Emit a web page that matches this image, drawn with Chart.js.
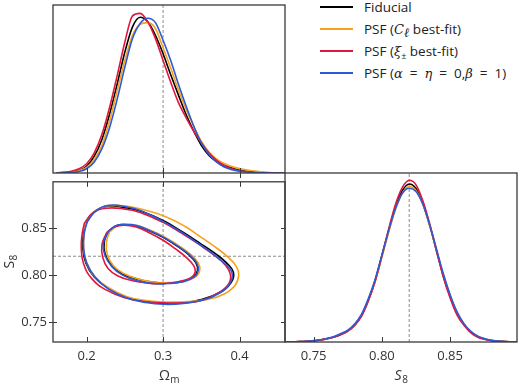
<!DOCTYPE html>
<html><head><meta charset="utf-8">
<script src="https://cdn.jsdelivr.net/npm/chart.js@4.4.0/dist/chart.umd.min.js"></script>
<style>
html,body{margin:0;padding:0;background:#fff;}
#wrap{position:relative;width:520px;height:384px;overflow:hidden;font-family:'Open Sans',sans-serif;}
canvas{position:absolute;}
#legend{position:absolute;left:318px;top:0;font-size:13.5px;color:#222;}
.row{position:absolute;left:0;white-space:nowrap;height:18px;line-height:18px;}
.sw{position:absolute;left:2px;top:8px;width:33px;height:2px;}
.lt{position:absolute;left:46px;top:0;}
.lt i{font-family:'DejaVu Serif',serif;font-size:13px;}
.lt sub{font-size:9px;vertical-align:-3px;line-height:0;}
.lt .eq{margin:0 7px;}
</style></head>
<body><div id="wrap">
<canvas id="cTop" width="290" height="180" style="left:0;top:0"></canvas>
<canvas id="cMid" width="290" height="216" style="left:0;top:168px"></canvas>
<canvas id="cRight" width="240" height="216" style="left:280px;top:168px"></canvas>
<div id="legend"></div>
</div>
<script>
// ---------- data ----------
const omGrid = [0.16,0.17,0.18,0.19,0.20,0.21,0.22,0.23,0.24,0.25,0.26,0.27,0.28,0.29,0.30,0.31,0.32,0.33,0.34,0.35,0.36,0.37,0.38,0.39,0.40,0.41,0.42,0.43,0.44,0.45,0.46];
const omFiducial = [0.001,0.002,0.005,0.015,0.04,0.10,0.20,0.35,0.53,0.72,0.87,0.927,0.90,0.82,0.71,0.585,0.465,0.35,0.25,0.165,0.105,0.068,0.045,0.029,0.018,0.011,0.006,0.003,0.0015,0.0005,0];
const omClFit    = [0.001,0.003,0.006,0.014,0.033,0.08,0.165,0.31,0.49,0.67,0.82,0.885,0.895,0.86,0.745,0.625,0.495,0.38,0.28,0.19,0.125,0.083,0.057,0.039,0.026,0.017,0.011,0.006,0.003,0.001,0];
const omXiFit    = [0.001,0.004,0.01,0.025,0.055,0.12,0.23,0.39,0.58,0.78,0.935,0.95,0.90,0.80,0.67,0.54,0.42,0.33,0.25,0.18,0.12,0.075,0.045,0.025,0.013,0.007,0.003,0.001,0,0,0];
const omAlphaBeta= [0,0.001,0.003,0.009,0.025,0.065,0.145,0.27,0.44,0.63,0.80,0.89,0.921,0.895,0.79,0.67,0.53,0.40,0.28,0.18,0.11,0.065,0.036,0.02,0.011,0.006,0.003,0.001,0,0,0];

const s8Grid = [0.730,0.735,0.740,0.745,0.750,0.755,0.760,0.765,0.770,0.775,0.780,0.785,0.790,0.795,0.800,0.805,0.810,0.815,0.820,0.825,0.830,0.835,0.840,0.845,0.850,0.855,0.860,0.865,0.870,0.875,0.880,0.885,0.890,0.895,0.900];
const s8Fiducial = [0,0.001,0.002,0.004,0.007,0.012,0.02,0.03,0.045,0.065,0.10,0.155,0.245,0.36,0.51,0.66,0.80,0.895,0.935,0.908,0.82,0.69,0.54,0.39,0.27,0.17,0.105,0.06,0.033,0.018,0.009,0.005,0.002,0.001,0];
const s8ClFit    = [0,0.001,0.002,0.004,0.007,0.012,0.02,0.031,0.046,0.066,0.10,0.155,0.245,0.355,0.50,0.65,0.785,0.88,0.92,0.897,0.815,0.69,0.545,0.395,0.275,0.175,0.108,0.062,0.034,0.019,0.01,0.005,0.002,0.001,0];
const s8XiFit    = [0,0.001,0.002,0.004,0.007,0.012,0.02,0.03,0.045,0.064,0.098,0.152,0.243,0.36,0.51,0.67,0.815,0.915,0.957,0.93,0.835,0.70,0.54,0.385,0.26,0.16,0.10,0.056,0.03,0.016,0.008,0.004,0.002,0.001,0];
const s8AlphaBeta= [0,0.001,0.002,0.004,0.008,0.013,0.021,0.033,0.05,0.07,0.106,0.163,0.255,0.37,0.515,0.66,0.79,0.88,0.91,0.89,0.815,0.695,0.55,0.405,0.28,0.18,0.11,0.064,0.036,0.02,0.01,0.005,0.002,0.001,0];

// 2D contours [Omega_m, S8]
const c68Fiducial = [[0.228,0.846],[0.238,0.852],[0.250,0.8535],[0.265,0.852],[0.282,0.847],[0.300,0.840],[0.318,0.831],[0.333,0.822],[0.343,0.813],[0.345,0.805],[0.340,0.798],[0.325,0.793],[0.305,0.7915],[0.285,0.7925],[0.265,0.796],[0.245,0.802],[0.232,0.811],[0.224,0.823],[0.223,0.835]];
const c95Fiducial = [[0.200,0.856],[0.210,0.867],[0.228,0.873],[0.250,0.8715],[0.270,0.868],[0.300,0.858],[0.325,0.846],[0.348,0.834],[0.368,0.823],[0.383,0.813],[0.392,0.803],[0.389,0.792],[0.373,0.781],[0.350,0.774],[0.325,0.7705],[0.300,0.770],[0.275,0.772],[0.250,0.777],[0.228,0.786],[0.210,0.798],[0.199,0.813],[0.195,0.829],[0.196,0.844]];
const c68ClFit = [[0.230,0.846],[0.240,0.852],[0.252,0.8535],[0.268,0.852],[0.285,0.847],[0.303,0.840],[0.321,0.831],[0.336,0.822],[0.346,0.813],[0.348,0.805],[0.342,0.798],[0.327,0.7935],[0.307,0.792],[0.287,0.7925],[0.267,0.796],[0.248,0.802],[0.235,0.810],[0.227,0.822],[0.226,0.835]];
const c95ClFit = [[0.199,0.857],[0.211,0.868],[0.230,0.8735],[0.253,0.873],[0.276,0.869],[0.305,0.8615],[0.330,0.851],[0.350,0.840],[0.368,0.830],[0.385,0.819],[0.396,0.809],[0.399,0.800],[0.394,0.789],[0.380,0.780],[0.360,0.7745],[0.333,0.772],[0.305,0.7715],[0.278,0.773],[0.253,0.777],[0.230,0.786],[0.211,0.798],[0.200,0.813],[0.196,0.829],[0.197,0.845]];
const c68XiFit = [[0.226,0.845],[0.236,0.851],[0.249,0.853],[0.265,0.851],[0.282,0.845],[0.300,0.837],[0.316,0.828],[0.330,0.819],[0.340,0.810],[0.342,0.803],[0.336,0.797],[0.320,0.793],[0.300,0.791],[0.280,0.7915],[0.260,0.794],[0.241,0.799],[0.228,0.807],[0.221,0.819],[0.220,0.832]];
const c95XiFit = [[0.197,0.855],[0.208,0.866],[0.226,0.871],[0.250,0.870],[0.270,0.8665],[0.300,0.856],[0.325,0.844],[0.348,0.832],[0.367,0.821],[0.381,0.811],[0.388,0.801],[0.386,0.791],[0.372,0.781],[0.350,0.773],[0.325,0.7705],[0.300,0.7705],[0.275,0.772],[0.250,0.776],[0.226,0.784],[0.207,0.796],[0.196,0.812],[0.193,0.829],[0.194,0.843]];
const c68AlphaBeta = [[0.229,0.847],[0.239,0.8525],[0.251,0.854],[0.266,0.8525],[0.283,0.847],[0.301,0.840],[0.319,0.831],[0.334,0.822],[0.344,0.813],[0.346,0.805],[0.341,0.798],[0.326,0.793],[0.306,0.791],[0.286,0.791],[0.266,0.794],[0.247,0.800],[0.233,0.809],[0.224,0.821],[0.222,0.834]];
const c95AlphaBeta = [[0.201,0.857],[0.212,0.868],[0.229,0.874],[0.252,0.8725],[0.272,0.868],[0.300,0.857],[0.325,0.845],[0.347,0.833],[0.366,0.822],[0.381,0.812],[0.390,0.803],[0.388,0.792],[0.374,0.781],[0.352,0.7735],[0.327,0.770],[0.302,0.769],[0.277,0.771],[0.252,0.776],[0.229,0.785],[0.211,0.798],[0.200,0.813],[0.196,0.829],[0.197,0.845]];

const omTicks = [0.2,0.3,0.4];
const omTickLabels = ['0.2','0.3','0.4'];
const s8Ticks = [0.75,0.80,0.85];
const s8TickLabels = ['0.75','0.80','0.85'];
const omFid = 0.3;
const s8Fid = 0.82;

const seriesNames = ['Fiducial','PSF (C_ell best-fit)','PSF (xi_pm best-fit)','PSF (alpha=eta=0,beta=1)'];
const legendHtml = ['Fiducial',
  'PSF (<i>C</i><sub><i>ℓ</i></sub> best-fit)',
  'PSF (<i>ξ</i><sub>±</sub> best-fit)',
  'PSF (<i>α</i><span class="eq">=</span><i>η</i><span class="eq">=</span>0,<i>β</i><span class="eq">=</span>1)'];

// ---------- styling ----------
const colors = ['#000000','#f5a31e','#e2173d','#2c5ad8'];
const omSeries = [omFiducial, omClFit, omXiFit, omAlphaBeta];
const s8Series = [s8Fiducial, s8ClFit, s8XiFit, s8AlphaBeta];
const c68 = [c68Fiducial, c68ClFit, c68XiFit, c68AlphaBeta];
const c95 = [c95Fiducial, c95ClFit, c95XiFit, c95AlphaBeta];
const omRange = [0.156, 0.4595];
const s8Range = [0.729, 0.899];
const drawOrder = [3,2,1,0]; // first drawn on top
const FONT = "'Open Sans', 'DejaVu Sans', sans-serif";
const dashStyle = {borderColor:'#8a8a8a', borderWidth:1, borderDash:[3,2], pointRadius:0, showLine:true, fill:false};

const cornerPlugin = {
  id:'corner',
  afterDatasetsDraw(chart, args, o){
    const {ctx, chartArea:a, scales} = chart;
    ctx.save();
    ctx.strokeStyle = '#3a3a3a'; ctx.lineWidth = 1.3;
    ctx.strokeRect(a.left, a.top, a.right-a.left, a.bottom-a.top);
    ctx.lineWidth = 1;
    (o.marks||[]).forEach(m=>{
      const s = scales[m.axis];
      m.values.forEach(v=>{
        const p = Math.round(s.getPixelForValue(v))+0.5;
        ctx.beginPath();
        if(m.edge==='bottom'){ctx.moveTo(p,a.bottom+m.outer);ctx.lineTo(p,a.bottom-m.inner);}
        if(m.edge==='top'){ctx.moveTo(p,a.top-m.outer);ctx.lineTo(p,a.top+m.inner);}
        if(m.edge==='left'){ctx.moveTo(a.left-m.outer,p);ctx.lineTo(a.left+m.inner,p);}
        if(m.edge==='right'){ctx.moveTo(a.right+m.outer,p);ctx.lineTo(a.right-m.inner,p);}
        ctx.stroke();
      });
    });
    (o.titles||[]).forEach(t=>{
      ctx.save();
      ctx.fillStyle = '#333';
      let cx, cy;
      if(t.kind==='bottom'){cx=(a.left+a.right)/2; cy=chart.height-t.offset; ctx.translate(cx,cy);}
      else {cx=t.offset; cy=(a.top+a.bottom)/2; ctx.translate(cx,cy); ctx.rotate(-Math.PI/2);}
      const mainFont = (t.italic?'italic ':'')+'14px '+FONT;
      const subFont = '10px '+FONT;
      ctx.font = mainFont; const w1 = ctx.measureText(t.main).width;
      ctx.font = subFont; const w2 = ctx.measureText(t.sub).width;
      const x0 = -(w1+w2)/2;
      ctx.textBaseline='alphabetic'; ctx.textAlign='left';
      ctx.font = mainFont; ctx.fillText(t.main, x0, 4);
      ctx.font = subFont; ctx.fillText(t.sub, x0+w1+0.5, 7);
      ctx.restore();
    });
    ctx.restore();
  }
};

function xy(xs, ys){ return xs.map((x,i)=>({x:x, y:ys[i]})); }
function loop(pts){ const p = pts.map(q=>({x:q[0], y:q[1]})); p.push({x:pts[0][0], y:pts[0][1]}); return p; }

const baseOpts = {responsive:false, animation:false, devicePixelRatio:1,
  plugins:{legend:{display:false}, tooltip:{enabled:false}},
  elements:{point:{radius:0}}};

function tickAxis(range, ticks, labels, extra){
  return Object.assign({type:'linear', min:range[0], max:range[1],
    grid:{display:false, drawTicks:false}, border:{display:false},
    afterBuildTicks:(s)=>{ s.ticks = ticks.map(v=>({value:v})); },
    ticks:{autoSkip:false, maxRotation:0, padding:6, color:'#333', font:{family:FONT, size:13},
      callback:(v)=>{ const i = ticks.findIndex(t=>Math.abs(t-v)<1e-9); return i>=0?labels[i]:''; }}
  }, extra||{});
}

// ---------- top-left: Omega_m marginal ----------
const topSets = drawOrder.map(i=>({data:xy(omGrid, omSeries[i]), borderColor:colors[i], borderWidth:1.6,
  showLine:true, pointRadius:0, cubicInterpolationMode:'monotone', fill:false}));
topSets.push(Object.assign({data:[{x:omFid,y:0},{x:omFid,y:1}]}, dashStyle));
new Chart(document.getElementById('cTop'), {type:'scatter', data:{datasets:topSets},
  options:Object.assign({}, baseOpts, {layout:{padding:{left:53, top:5, right:5, bottom:7}},
    scales:{x:{type:'linear', display:false, min:omRange[0], max:omRange[1]}, y:{type:'linear', display:false, min:0, max:1}},
    plugins:{legend:{display:false}, tooltip:{enabled:false},
      corner:{marks:[{axis:'x', edge:'bottom', values:omTicks, inner:5, outer:5}]}}}),
  plugins:[cornerPlugin]});

// ---------- bottom-left: 2D contours ----------
const midSets = [];
drawOrder.forEach(i=>{
  [c95[i], c68[i]].forEach(c=>midSets.push({data:loop(c), borderColor:colors[i], borderWidth:1.6, showLine:true,
    pointRadius:0, tension:0.45, fill:false}));
});
midSets.push(Object.assign({data:[{x:omFid,y:s8Range[0]},{x:omFid,y:s8Range[1]}]}, dashStyle));
midSets.push(Object.assign({data:[{x:omRange[0],y:s8Fid},{x:omRange[1],y:s8Fid}]}, dashStyle));
new Chart(document.getElementById('cMid'), {type:'scatter', data:{datasets:midSets},
  options:Object.assign({}, baseOpts, {layout:{padding:{left:0, top:5, right:5, bottom:0}},
    scales:{
      x:tickAxis(omRange, omTicks, omTickLabels, {afterFit:(s)=>{s.height=42;}}),
      y:tickAxis(s8Range, s8Ticks, s8TickLabels, {afterFit:(s)=>{s.width=53;}})
    },
    plugins:{legend:{display:false}, tooltip:{enabled:false},
      corner:{marks:[
        {axis:'x', edge:'bottom', values:omTicks, inner:5, outer:0},
        {axis:'x', edge:'top', values:omTicks, inner:5, outer:0},
        {axis:'y', edge:'left', values:s8Ticks, inner:4, outer:4},
        {axis:'y', edge:'right', values:s8Ticks, inner:4, outer:0}],
        titles:[{kind:'bottom', main:'Ω', sub:'m', offset:8, italic:false},{kind:'left', main:'S', sub:'8', offset:10, italic:false}]}}}),
  plugins:[cornerPlugin]});

// ---------- bottom-right: S8 marginal ----------
const rightSets = drawOrder.map(i=>({data:xy(s8Grid, s8Series[i]), borderColor:colors[i], borderWidth:1.6,
  showLine:true, pointRadius:0, cubicInterpolationMode:'monotone', fill:false}));
rightSets.push(Object.assign({data:[{x:s8Fid,y:0},{x:s8Fid,y:1}]}, dashStyle));
new Chart(document.getElementById('cRight'), {type:'scatter', data:{datasets:rightSets},
  options:Object.assign({}, baseOpts, {layout:{padding:{left:5, top:5, right:3, bottom:0}},
    scales:{
      x:tickAxis(s8Range, s8Ticks, s8TickLabels, {afterFit:(s)=>{s.height=42;}}),
      y:{type:'linear', display:false, min:0, max:1}
    },
    plugins:{legend:{display:false}, tooltip:{enabled:false},
      corner:{marks:[{axis:'x', edge:'bottom', values:s8Ticks, inner:5, outer:0}],
        titles:[{kind:'bottom', main:'S', sub:'8', offset:8, italic:true}]}}}),
  plugins:[cornerPlugin]});

// ---------- legend ----------
const lg = document.getElementById('legend');
const rowTops = [-2, 20, 42, 64];
seriesNames.forEach((n,i)=>{
  const r = document.createElement('div');
  r.className='row'; r.style.top = rowTops[i]+'px'; r.title = n;
  r.innerHTML = '<span class="sw" style="background:'+colors[i]+'"></span><span class="lt">'+legendHtml[i]+'</span>';
  lg.appendChild(r);
});
</script>
</body></html>
